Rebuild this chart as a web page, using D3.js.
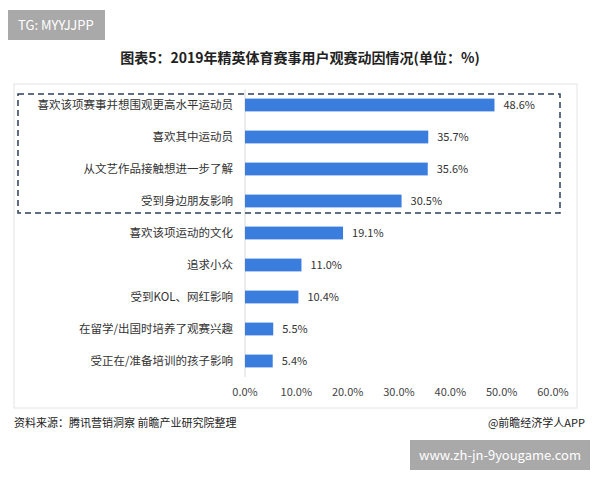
<!DOCTYPE html><html><head><meta charset="utf-8"><script src="https://cdn.jsdelivr.net/npm/d3@7"></script>
<style>body{margin:0;background:#fff}text{font-family:"Noto Sans CJK SC","Noto Sans",sans-serif}</style></head><body>
<svg id="c" width="600" height="480"></svg>
<script>
const categories=["喜欢该项赛事并想围观更高水平运动员","喜欢其中运动员","从文艺作品接触想进一步了解","受到身边朋友影响","喜欢该项运动的文化","追求小众","受到KOL、网红影响","在留学/出国时培养了观赛兴趣","受正在/准备培训的孩子影响"];
const values=[48.6,35.7,35.6,30.5,19.1,11.0,10.4,5.5,5.4];
const ticks=[0,10,20,30,40,50,60];
const svg=d3.select("#c");
svg.append("rect").attr("x",8).attr("y",10).attr("width",97).attr("height",30).attr("fill","#a9a9a9");
svg.append("text").attr("x",18).attr("y",30).attr("fill","#fff").attr("font-size",13).text("TG: MYYJJPP");
svg.append("text").attr("x",300).attr("y",63).attr("text-anchor","middle").attr("font-size",14).attr("font-weight","bold").attr("fill","#222").text("图表5：2019年精英体育赛事用户观赛动因情况(单位：%)");
svg.append("rect").attr("x",14).attr("y",84).attr("width",563).attr("height",324).attr("fill","none").attr("stroke","#e4e4e4");
const x=d3.scaleLinear().domain([0,60]).range([245,553]);
const y=d3.scaleBand().domain(categories).range([89,377]).paddingInner(0.6).paddingOuter(0.3);
svg.append("line").attr("x1",245).attr("x2",245).attr("y1",89).attr("y2",377).attr("stroke","#d9d9d9");
svg.selectAll(".b").data(values).join("rect").attr("x",x(0)).attr("y",(d,i)=>y(categories[i])).attr("width",d=>x(d)-x(0)).attr("height",y.bandwidth()).attr("fill","#3b7ddd");
svg.selectAll(".v").data(values).join("text").attr("x",d=>x(d)+9).attr("y",(d,i)=>y(categories[i])+y.bandwidth()/2+4).attr("font-size",11).attr("fill","#333").text(d=>d.toFixed(1)+"%");
svg.selectAll(".c").data(categories).join("text").attr("x",233).attr("y",d=>y(d)+y.bandwidth()/2+4).attr("text-anchor","end").attr("font-size",11.5).attr("fill","#333").text(d=>d);
svg.selectAll(".t").data(ticks).join("text").attr("x",d=>x(d)).attr("y",396).attr("text-anchor","middle").attr("font-size",11).attr("fill","#444").text(d=>d.toFixed(1)+"%");
svg.append("rect").attr("x",18).attr("y",94).attr("width",542).attr("height",119).attr("fill","none").attr("stroke","#2b3f5c").attr("stroke-width",1.5).attr("stroke-dasharray","6,4");
svg.append("text").attr("x",14).attr("y",427).attr("font-size",11).attr("fill","#222").text("资料来源：腾讯营销洞察 前瞻产业研究院整理");
svg.append("text").attr("x",585).attr("y",427).attr("text-anchor","end").attr("font-size",11).attr("fill","#222").text("@前瞻经济学人APP");
svg.append("rect").attr("x",410).attr("y",440).attr("width",180).attr("height",30).attr("fill","#a9a9a9");
svg.append("text").attr("x",500).attr("y",460).attr("text-anchor","middle").attr("fill","#fff").attr("font-size",13).text("www.zh-jn-9yougame.com");
</script></body></html>
